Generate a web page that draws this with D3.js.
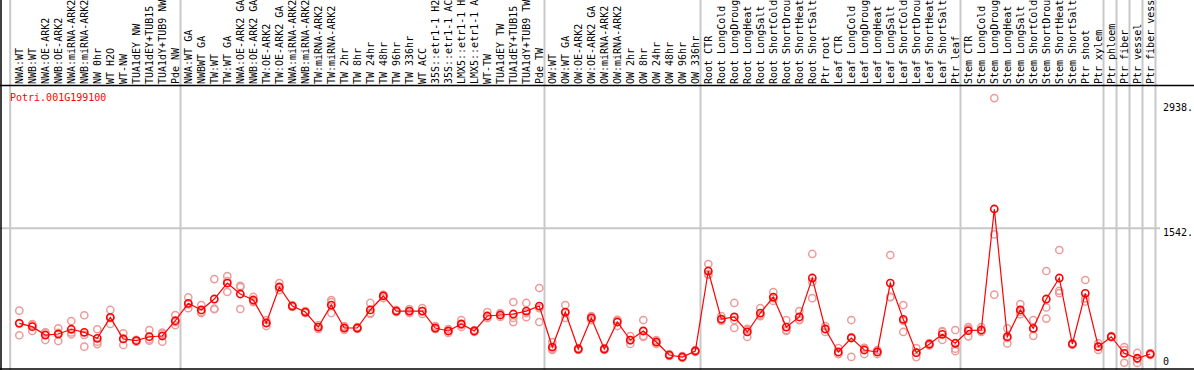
<!DOCTYPE html>
<html lang="en">
<head>
<meta charset="utf-8">
<script src="https://cdn.jsdelivr.net/npm/d3@7"></script>
<style>
    body { margin: 0; background: #fff; }
    svg { display: block; }
    text { font-family: 'DejaVu Sans Mono', monospace; font-size: 10px; }
    .lab { fill: #000; }
    .title { fill: #ff0000; }
    .grid { stroke: #c8c8c8; stroke-width: 2; }
    .frame { stroke: #000; stroke-width: 1.5; }
    .mean-line { fill: none; stroke: #ff0000; stroke-width: 1.2; }
    .mean { fill: none; stroke: #ff0000; stroke-width: 1.6; }
    .rep { fill: none; stroke: #ef9a9a; stroke-width: 1.5; }
</style>
</head>
<body>
<div id="chart"></div>
<script>

    var samples = ["NWA:WT", "NWB:WT", "NWA:OE-ARK2", "NWB:OE-ARK2", "NWA:miRNA-ARK2", "NWB:miRNA-ARK2",
        "NW 0hr", "WT H2O", "WT-NW", "TUA1dEY NW", "TUA1dEY+TUB15 NW", "TUA1dY+TUB9 NW", "Pde NW",
        "NWA:WT GA", "NWBWT GA", "TW:WT", "TW:WT GA", "NWA:OE-ARK2 GA", "NWB:OE-ARK2 GA", "TW:OE-ARK2",
        "TW:OE-ARK2 GA", "NWA:miRNA-ARK2", "NWB:miRNA-ARK2", "TW:miRNA-ARK2", "TW:miRNA-ARK2",
        "TW 2hr", "TW 8hr", "TW 24hr", "TW 48hr", "TW 96hr", "TW 336hr", "WT ACC",
        "35S::etr1-1 H2O", "35S::etr1-1 ACC", "LMX5::etr1-1 H2O", "LMX5::etr1-1 ACC", "WT-TW",
        "TUA1dEY TW", "TUA1dEY+TUB15 TW", "TUA1dY+TUB9 TW", "Pde TW",
        "OW:WT", "OW:WT GA", "OW:OE-ARK2", "OW:OE-ARK2 GA", "OW:miRNA-ARK2", "OW:miRNA-ARK2",
        "OW 2hr", "OW 8hr", "OW 24hr", "OW 48hr", "OW 96hr", "OW 336hr",
        "Root CTR", "Root LongCold", "Root LongDrought", "Root LongHeat", "Root LongSalt",
        "Root ShortCold", "Root ShortDrought", "Root ShortHeat", "Root ShortSalt", "Ptr root",
        "Leaf CTR", "Leaf LongCold", "Leaf LongDrought", "Leaf LongHeat", "Leaf LongSalt",
        "Leaf ShortCold", "Leaf ShortDrought", "Leaf ShortHeat", "Leaf ShortSalt", "Ptr leaf",
        "Stem CTR", "Stem LongCold", "Stem LongDrought", "Stem LongHeat", "Stem LongSalt",
        "Stem ShortCold", "Stem ShortDrought", "Stem ShortHeat", "Stem ShortSalt", "Ptr shoot",
        "Ptr xylem", "Ptr phloem", "Ptr fiber", "Ptr vessel", "Ptr fiber vessel"];

    // group boundaries (index of first sample after each separator)
    var groupBreaks = [0, 13, 41, 53, 73, 84, 85, 86, 87, 88];

    var means = [483, 446, 353, 364, 417, 383, 316, 550, 309, 290, 334, 342, 512,
        706, 632, 754, 932, 810, 743, 487, 888, 676, 609, 442, 687, 431, 431, 632, 788, 620, 620, 620,
        431, 398, 476, 398, 565, 576, 587, 620, 676,
        219, 609, 197, 543, 197, 498, 297, 398, 275, 130, 108, 175,
        1066, 531, 554, 387, 598, 776, 442, 554, 988, 420,
        164, 320, 186, 164, 932, 528, 156, 250, 361, 261,
        401, 409, 1757, 334, 632, 428, 754, 988, 253, 818,
        223, 334, 149, 94, 141];

    var reps = [[624, 487, 350], [476, 398, 464], [379, 297, 383], [428, 286, 378], [509, 361, 381],
        [573, 223, 354], [417, 279, 252], [632, 476, 542], [372, 242, 313], [290, 300, 280],
        [409, 290, 303], [379, 279, 368], [576, 464, 496],
        [773, 651, 694], [687, 598, 610], [976, 640, 646], [955, 832, 1009], [643, 900, 887], [777, 720, 732],
        [520, 453, 488], [932, 854, 878], [687, 665, 676], [598, 620, 609], [420, 464, 442],
        [743, 598, 720], [453, 409, 431], [442, 420, 431], [710, 587, 599], [799, 765, 800],
        [632, 609, 620], [598, 643, 620], [654, 587, 620], [453, 420, 420], [420, 376, 398],
        [520, 442, 466], [409, 387, 398], [609, 543, 543], [598, 554, 576], [721, 543, 497],
        [710, 598, 552], [877, 498, 653],
        [275, 186, 196], [687, 543, 597], [208, 186, 197], [565, 520, 544], [208, 186, 197],
        [520, 453, 521], [342, 253, 296], [520, 342, 332], [297, 253, 275], [141, 119, 130],
        [119, 97, 108], [186, 164, 175],
        [1144, 1022, 1032], [565, 509, 519], [710, 520, 432], [409, 331, 421], [654, 576, 564],
        [832, 732, 764], [520, 398, 408], [620, 520, 522], [1256, 944, 764], [453, 387, 420],
        [208, 141, 143], [520, 331, 109], [208, 141, 209], [186, 141, 165], [1244, 777, 775],
        [687, 387, 510], [208, 107, 153], [236, 264, 250], [387, 298, 398], [409, 201, 173],
        [442, 338, 423], [442, 387, 398], [2993, 1474, 803], [427, 258, 317], [698, 612, 586],
        [520, 420, 344], [1066, 660, 536], [1300, 845, 819], [264, 245, 250], [966, 762, 726],
        [223, 186, 260], [342, 326, 334], [219, 44, 184], [153, 42, 87], [141, 130, 152]];

    var tickValues = [0, 1542, 2938];
    var tickLabels = ["0", "1542.", "2938."];
    var geneName = "Potri.001G199100";

    var width = 1194, height = 370;
    var labelBase = 84, frameTop = 85.5;

    var svg = d3.select("#chart").append("svg")
        .attr("width", width)
        .attr("height", height);

    var x = d3.scaleLinear()
        .domain([0, samples.length - 1])
        .range([19.3, 1150.3]);

    var y = d3.scaleLinear()
        .domain([0, 2938])
        .range([366.7, 103]);

    // vertical separators between sample groups
    svg.selectAll(".vgrid")
        .data(groupBreaks)
        .enter().append("line")
        .attr("class", "grid")
        .attr("x1", function (d) { return x(d - (d === 0 ? 0.7 : 0.6)); })
        .attr("x2", function (d) { return x(d - (d === 0 ? 0.7 : 0.6)); })
        .attr("y1", 0)
        .attr("y2", height);

    // mid horizontal gridline
    svg.append("line")
        .attr("class", "grid")
        .attr("x1", 0)
        .attr("x2", 1160)
        .attr("y1", y(1542))
        .attr("y2", y(1542));

    // frame
    svg.append("line").attr("class", "frame")
        .attr("x1", 1).attr("x2", 1).attr("y1", 0).attr("y2", height);
    svg.append("line").attr("class", "frame")
        .attr("x1", 0).attr("x2", width).attr("y1", frameTop).attr("y2", frameTop);
    svg.append("line").attr("class", "frame")
        .attr("x1", 0).attr("x2", width).attr("y1", 369).attr("y2", 369);

    // rotated sample labels
    svg.selectAll(".lab")
        .data(samples)
        .enter().append("text")
        .attr("class", "lab")
        .attr("transform", function (d, i) {
            return "translate(" + (x(i) + 3.5) + "," + labelBase + ") rotate(-90)";
        })
        .text(function (d) { return d; });

    // y tick labels on the right
    svg.selectAll(".ytick")
        .data(tickValues)
        .enter().append("text")
        .attr("class", "lab")
        .attr("x", 1163)
        .attr("y", function (d) { return Math.min(y(d) + 8, 365); })
        .text(function (d, i) { return tickLabels[i]; });

    svg.append("text")
        .attr("class", "title")
        .attr("x", 10)
        .attr("y", 101)
        .text(geneName);

    // replicate points
    var repPts = [];
    reps.forEach(function (r, i) {
        r.forEach(function (v) { repPts.push([i, v]); });
    });

    svg.selectAll(".rep")
        .data(repPts)
        .enter().append("circle")
        .attr("class", "rep")
        .attr("cx", function (d) { return x(d[0]); })
        .attr("cy", function (d) { return y(d[1]); })
        .attr("r", 3.6);

    var line = d3.line()
        .x(function (d, i) { return x(i); })
        .y(function (d) { return y(d); });

    svg.append("path")
        .datum(means)
        .attr("class", "mean-line")
        .attr("d", line);

    svg.selectAll(".mean")
        .data(means)
        .enter().append("circle")
        .attr("class", "mean")
        .attr("cx", function (d, i) { return x(i); })
        .attr("cy", function (d) { return y(d); })
        .attr("r", 3.6);

</script>
</body>
</html>
